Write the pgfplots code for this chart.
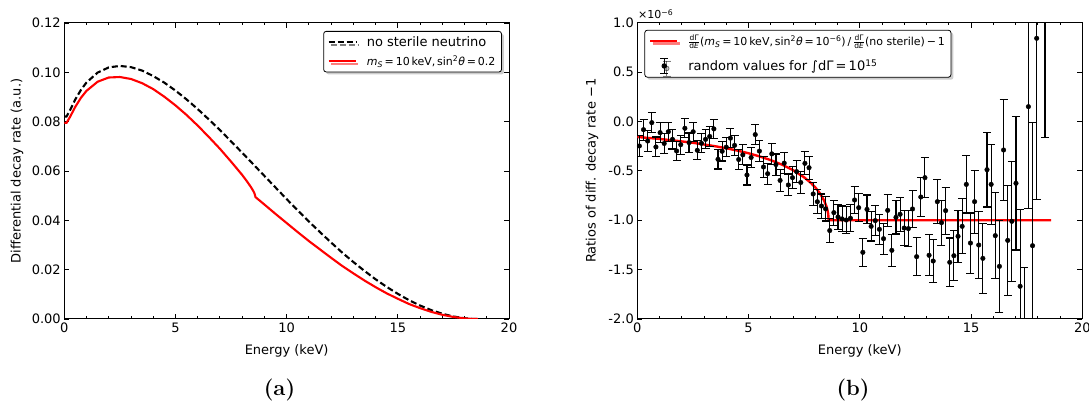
\documentclass[border=0pt]{standalone}
\usepackage{fontspec}
\usepackage{pgfplots}
\usepackage{pgfplotstable}
\pgfplotsset{compat=1.18}
\usetikzlibrary{shadows}
\newfontfamily\mpl{DejaVu Sans}
\newcommand{\mplfont}{\mpl\fontsize{13}{15.6}\selectfont}
\newcommand{\mplsmall}{\mpl\fontsize{11}{13}\selectfont}
\newcommand{\smallfr}[2]{$\frac{\mbox{\mpl\fontsize{7.5}{7.5}\selectfont #1}}{\mbox{\mpl\fontsize{7.5}{7.5}\selectfont #2}}$}

\pgfplotstableread{
E f
0 0.0821
0.1 0.0821
0.25 0.0845
0.5 0.0891
0.75 0.0929
1 0.0959
1.5 0.0999
2 0.1020
2.5 0.1026
3 0.1021
3.5 0.1007
4 0.0985
4.5 0.0958
5 0.0926
5.5 0.0890
6 0.0851
6.5 0.0809
7 0.0766
7.5 0.0720
8 0.0674
8.5 0.0627
9 0.0580
9.5 0.0533
10 0.0486
10.5 0.0440
11 0.0395
11.5 0.0352
12 0.0310
12.5 0.0269
13 0.0231
13.5 0.0195
14 0.0161
14.5 0.0130
15 0.0102
15.5 0.00765
16 0.00546
16.5 0.00361
17 0.00212
17.5 0.00102
18 0.00031
18.3 0.00008
18.6 0
}\nosterile

\pgfplotstableread{
E f
0 0.0795
0.1 0.0795
0.25 0.0818
0.5 0.0861
0.75 0.0897
1 0.0925
1.5 0.0962
2 0.0979
2.5 0.0981
3 0.0973
3.5 0.0956
4 0.0932
4.5 0.0901
5 0.0866
5.5 0.0827
6 0.0784
6.5 0.0738
7 0.0690
7.5 0.0638
8 0.0584
8.2 0.0560
8.4 0.0534
8.5 0.0519
8.55 0.0510
8.6 0.0494
9 0.0464
9.5 0.0426
10 0.0389
10.5 0.0352
11 0.0316
11.5 0.0282
12 0.0248
12.5 0.0215
13 0.0185
13.5 0.0156
14 0.0129
14.5 0.0104
15 0.0082
15.5 0.0061
16 0.0044
16.5 0.0029
17 0.0017
17.5 0.00082
18 0.00025
18.3 0.00006
18.6 0
}\sterile

\pgfplotstableread{
E r
0 -0.157
0.5 -0.167
1 -0.177
1.5 -0.189
2 -0.202
2.5 -0.216
3 -0.233
3.5 -0.251
4 -0.271
4.5 -0.295
5 -0.322
5.5 -0.354
6 -0.392
6.5 -0.437
7 -0.493
7.5 -0.566
7.8 -0.622
8 -0.668
8.2 -0.725
8.4 -0.803
8.5 -0.860
8.55 -0.900
8.58 -0.937
8.6 -1.0
18.6 -1.0
}\ratiocurve

\pgfplotstableread{
E v s
0.093 -0.248 0.108
0.279 -0.083 0.106
0.465 -0.198 0.104
0.651 -0.012 0.102
0.837 -0.258 0.101
1.023 -0.113 0.100
1.209 -0.223 0.099
1.395 -0.104 0.098
1.581 -0.181 0.098
1.767 -0.299 0.097
1.953 -0.235 0.097
2.139 -0.069 0.097
2.325 -0.214 0.097
2.511 -0.104 0.097
2.697 -0.292 0.097
2.883 -0.221 0.097
3.069 -0.181 0.097
3.255 -0.152 0.097
3.441 -0.075 0.097
3.627 -0.383 0.098
3.813 -0.302 0.098
3.999 -0.260 0.099
4.185 -0.169 0.099
4.371 -0.242 0.100
4.557 -0.385 0.100
4.743 -0.338 0.101
4.929 -0.542 0.101
5.115 -0.365 0.102
5.301 -0.133 0.103
5.487 -0.300 0.104
5.673 -0.461 0.105
5.859 -0.529 0.105
6.045 -0.328 0.106
6.231 -0.436 0.107
6.417 -0.597 0.108
6.603 -0.422 0.109
6.789 -0.643 0.111
6.975 -0.569 0.112
7.161 -0.508 0.113
7.347 -0.618 0.114
7.533 -0.424 0.116
7.719 -0.468 0.117
7.905 -0.734 0.118
8.091 -0.813 0.120
8.277 -0.856 0.122
8.463 -0.885 0.123
8.649 -1.105 0.125
8.835 -0.923 0.127
9.021 -0.967 0.129
9.207 -0.987 0.131
9.393 -0.998 0.133
9.579 -0.980 0.135
9.765 -0.795 0.137
9.951 -0.873 0.140
10.137 -1.325 0.142
10.323 -0.890 0.145
10.509 -1.062 0.148
10.695 -1.004 0.151
10.881 -1.092 0.154
11.067 -1.187 0.157
11.253 -0.900 0.160
11.439 -1.305 0.164
11.625 -0.971 0.168
11.811 -0.940 0.171
11.997 -1.079 0.176
12.183 -1.085 0.180
12.369 -0.886 0.185
12.555 -1.369 0.190
12.741 -0.765 0.195
12.927 -0.569 0.201
13.113 -1.355 0.207
13.299 -1.413 0.214
13.485 -0.812 0.221
13.671 -1.025 0.229
13.857 -0.903 0.237
14.043 -1.426 0.246
14.229 -1.359 0.255
14.415 -1.163 0.266
14.601 -1.062 0.278
14.787 -0.637 0.290
14.973 -1.231 0.304
15.159 -0.812 0.319
15.345 -1.251 0.338
15.531 -1.386 0.357
15.717 -0.488 0.378
15.903 -0.637 0.403
16.089 -1.156 0.433
16.275 -1.467 0.467
16.461 -0.289 0.509
16.647 -1.204 0.556
16.833 -1.011 0.607
17.019 -0.626 0.675
17.205 -1.669 0.774
17.391 -2.350 0.872
17.577 0.150 1.032
17.763 -1.258 1.243
17.949 0.842 1.631
18.321 4.240 4.400
}\ratiodata

\pgfplotsset{
  mplstyle/.style={
    scale only axis,
    axis line style={black, line width=1pt},
    tick style={black, line width=0.9pt},
    tick align=inside,
    major tick length=5pt, minor tick length=2.5pt,
    xmin=0, xmax=20, xtick={0,5,10,15,20}, minor x tick num=4,
    xticklabel={\mbox{\mplfont\pgfmathprintnumber[assume math mode=true]{\tick}}},
    label style={font=\mplfont},
    legend cell align=left,
    legend style={font=\mplfont, draw=black, line width=0.8pt, rounded corners=2.5pt, fill=white,
      drop shadow={shadow xshift=2.5pt, shadow yshift=-2.5pt, fill=black!40},
      inner xsep=4pt, inner ysep=3pt,
      /tikz/every odd column/.append style={column sep=8pt}},
    legend image code/.code={\draw[##1] (0cm,0cm) -- (0.95cm,0cm);},
  }
}

\begin{document}
\begin{tikzpicture}
\useasboundingbox (0,0) rectangle (1089pt,403pt);

% ---- (a)
\begin{axis}[mplstyle,
  /pgf/number format/assume math mode=true,
  at={(64.3pt,84pt)}, anchor=south west, width=444.7pt, height=296pt,
  ymin=0, ymax=0.12, ytick={0,0.02,0.04,0.06,0.08,0.1,0.12},
  yticklabel={\mbox{\mplfont\pgfmathprintnumber[fixed, fixed zerofill, precision=2, assume math mode=true]{\tick}}},
  xlabel={Energy (keV)}, ylabel={Differential decay rate (a.u.)},
  xlabel style={at={(axis description cs:0.5,-0.108)}, anchor=center},
  ylabel style={at={(axis description cs:-0.1064,0.5)}, anchor=center},
  legend style={at={(axis description cs:0.984,0.973)}, anchor=north east, row sep=4pt},
]
\addplot[black, line width=2.1pt, dash pattern=on 6pt off 3pt] table[x=E,y=f] {\nosterile};
\addlegendentry{no sterile neutrino}
\addplot[red, line width=2.1pt] table[x=E,y=f] {\sterile};
\addlegendentry{{\mplsmall\textit{m}\textsubscript{\textit{S}}\,=\,10\,keV,\,sin\textsuperscript{2}\textit{θ}\,=\,0.2}}
\end{axis}

% ---- (b)
\begin{axis}[mplstyle,
  /pgf/number format/assume math mode=true,
  at={(637.3pt,84pt)}, anchor=south west, width=445pt, height=296.3pt,
  ymin=-2, ymax=1, ytick={-2,-1.5,-1,-0.5,0,0.5,1},
  yticklabel={\mbox{\mplfont\pgfmathprintnumber[fixed, fixed zerofill, precision=1, assume math mode=true]{\tick}}},
  xlabel={Energy (keV)}, ylabel={Ratios of diff. decay rate −1},
  xlabel style={at={(axis description cs:0.5,-0.108)}, anchor=center},
  ylabel style={at={(axis description cs:-0.1018,0.5)}, anchor=center},
  legend style={at={(axis description cs:0.016,0.976)}, anchor=north west, row sep=9pt},
]
\addplot[red, line width=2.4pt] table[x=E,y=r] {\ratiocurve};
\addlegendentry{{\mplsmall\smallfr{dΓ}{d\textit{E}}(\textit{m}\textsubscript{\textit{S}}\,=\,10\,keV,\,sin\textsuperscript{2}\textit{θ}\,=\,10\textsuperscript{−6})\,/\,\smallfr{dΓ}{d\textit{E}}(no sterile)\,−\,1}}
\addplot[only marks, mark=*, mark size=2.3pt, black,
  legend image code/.code={
    \draw[black, line width=1.1pt] (0.5cm,-7.5pt) -- (0.5cm,7.5pt);
    \draw[black, line width=1.1pt] (0.5cm-4pt,-7.5pt) -- (0.5cm+4pt,-7.5pt);
    \draw[black, line width=1.1pt] (0.5cm-4pt,7.5pt) -- (0.5cm+4pt,7.5pt);
    \fill[black] (0.5cm,0pt) circle (2.3pt);
  },
  error bars/.cd, y dir=both, y explicit,
  error bar style={line width=1.1pt, black},
  error mark options={rotate=90, mark size=4pt, line width=1.1pt, black}]
  table[x=E, y=v, y error=s] {\ratiodata};
\addlegendentry{random values for ∫dΓ\,=\,10\textsuperscript{15}}
\end{axis}

\node[anchor=base west, font=\mpl\fontsize{11}{13}\selectfont, inner sep=0pt] at (638pt,384pt) {×10\textsuperscript{−6}};

\node[anchor=base, font=\fontsize{22}{26}\selectfont\bfseries, inner sep=0pt] at (279.5pt,7pt) {(a)};
\node[anchor=base, font=\fontsize{22}{26}\selectfont\bfseries, inner sep=0pt] at (853pt,7pt) {(b)};
\end{tikzpicture}
\end{document}
